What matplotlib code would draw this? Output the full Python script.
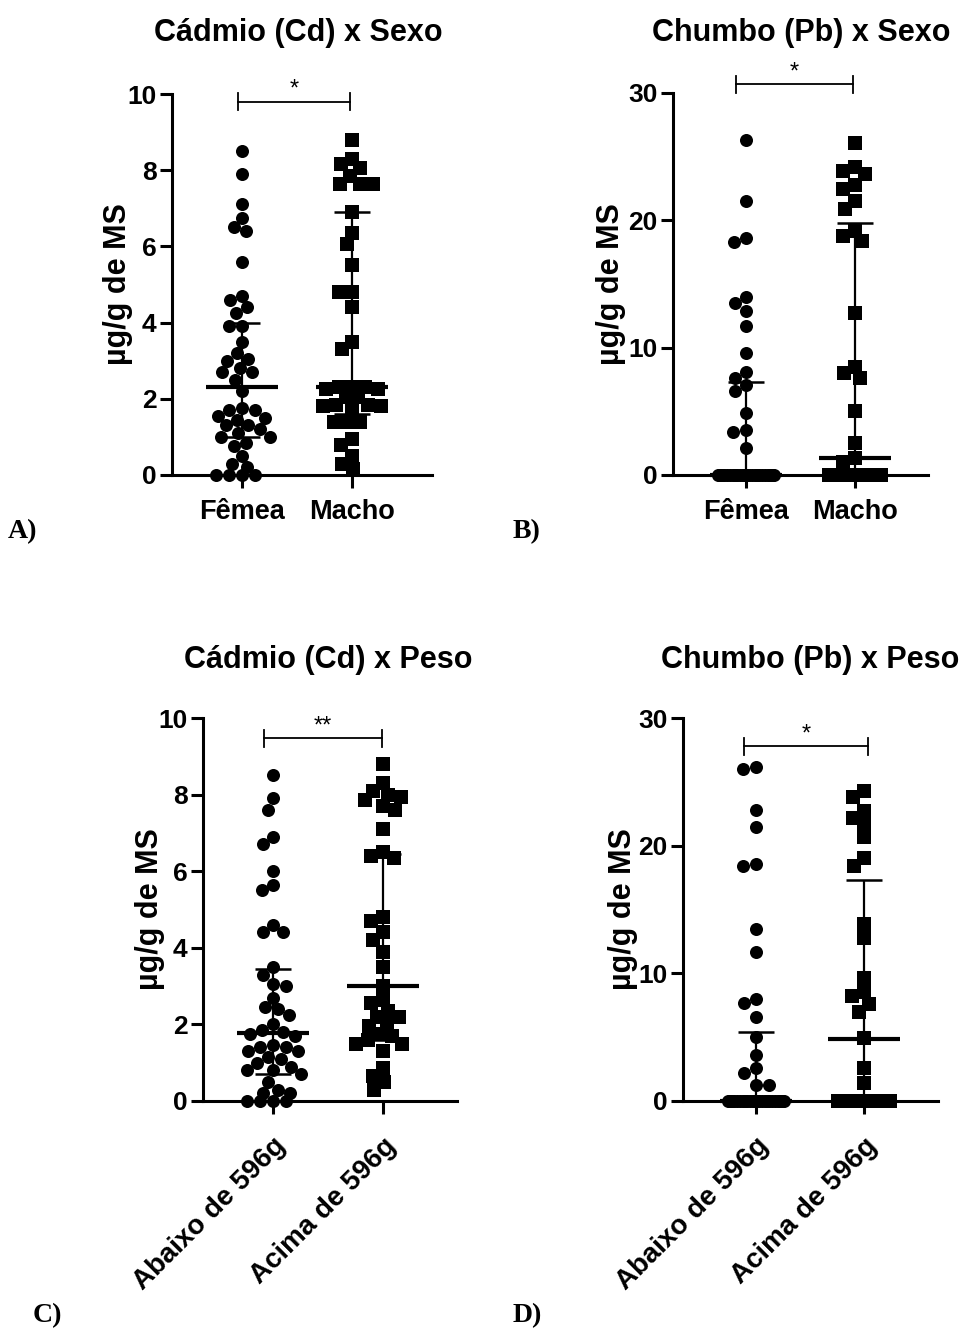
import numpy as np
import matplotlib
matplotlib.use("Agg")
import matplotlib.pyplot as plt

plt.rcParams["font.family"] = ["Liberation Sans", "DejaVu Sans"]
plt.rcParams["font.weight"] = "bold"

# ---------------- data (µg/g de MS) ----------------
sexo_cats = ["Fêmea", "Macho"]
peso_cats = ["Abaixo de 596g", "Acima de 596g"]

cd_sexo_femea = [8.5, 7.9, 7.1, 6.75, 6.5, 6.4, 5.6, 4.7, 4.6, 4.4, 4.25, 3.9, 3.9,
                 3.5, 3.2, 3.05, 3.0, 2.8, 2.7, 2.7, 2.5, 2.2, 1.75, 1.7, 1.7, 1.55,
                 1.5, 1.45, 1.3, 1.3, 1.2, 1.1, 1.0, 1.0, 0.85, 0.75, 0.5, 0.3, 0.2,
                 0.0, 0.0, 0.0, 0.0]
cd_sexo_macho = [8.8, 8.3, 8.15, 8.05, 7.85, 7.65, 7.65, 7.65, 6.9, 6.35, 6.05, 5.5,
                 4.8, 4.8, 4.4, 3.5, 3.3, 2.3, 2.3, 2.3, 2.25, 2.25, 2.05, 2.05, 1.85,
                 1.85, 1.8, 1.8, 1.7, 1.4, 1.4, 1.4, 0.95, 0.8, 0.5, 0.3, 0.15]

pb_sexo_femea = [26.3, 21.5, 18.6, 18.3, 14.0, 13.5, 12.9, 11.7, 9.6, 8.1, 7.6, 7.1,
                 6.6, 4.9, 3.5, 3.4, 2.1,
                 0, 0, 0, 0, 0, 0, 0, 0, 0, 0, 0, 0, 0, 0, 0, 0, 0, 0, 0, 0, 0, 0,
                 0, 0, 0, 0]
pb_sexo_macho = [26.1, 24.2, 23.9, 23.6, 22.8, 22.5, 21.5, 20.9, 19.2, 18.8, 18.4,
                 12.7, 8.5, 8.0, 7.6, 5.0, 2.5, 1.3, 1.0,
                 0, 0, 0, 0, 0, 0, 0, 0, 0, 0, 0, 0, 0, 0, 0, 0, 0, 0, 0, 0]

cd_peso_abaixo = [8.5, 7.9, 7.6, 6.9, 6.7, 6.0, 5.65, 5.5, 4.6, 4.4, 4.4, 3.5, 3.3,
                  3.05, 3.0, 2.7, 2.45, 2.4, 2.25, 2.0, 1.85, 1.8, 1.75, 1.7, 1.45,
                  1.4, 1.4, 1.3, 1.3, 1.15, 1.1, 1.0, 0.9, 0.8, 0.8, 0.7, 0.5, 0.3,
                  0.2, 0.2, 0.0, 0.0, 0.0, 0.0]
cd_peso_acima = [8.8, 8.3, 8.1, 8.0, 7.95, 7.85, 7.7, 7.6, 7.1, 6.5, 6.4, 6.35, 4.8,
                 4.7, 4.4, 4.2, 3.9, 3.5, 3.0, 2.65, 2.55, 2.35, 2.2, 2.2, 2.0, 1.95,
                 1.75, 1.7, 1.6, 1.5, 1.5, 1.3, 0.85, 0.65, 0.5, 0.3]

pb_peso_abaixo = [26.2, 26.0, 22.8, 21.5, 18.6, 18.4, 13.5, 11.7, 8.0, 7.7, 6.6, 5.0,
                  3.6, 2.6, 2.2, 1.25, 1.25,
                  0, 0, 0, 0, 0, 0, 0, 0, 0, 0, 0, 0, 0, 0, 0, 0, 0, 0, 0, 0, 0, 0,
                  0, 0, 0]
pb_peso_acima = [24.3, 23.8, 22.7, 22.2, 21.7, 20.7, 19.0, 18.4, 13.9, 12.8, 9.6, 8.5,
                 8.2, 7.6, 7.0, 4.9, 2.6, 1.4,
                 0, 0, 0, 0, 0, 0, 0, 0, 0, 0, 0, 0, 0, 0, 0, 0, 0, 0, 0, 0]

# median and interquartile range per group
cd_sexo_median = [2.30, 2.32]
cd_sexo_q1 = [1.0, 1.6]
cd_sexo_q3 = [3.98, 6.91]

pb_sexo_median = [0.0, 1.36]
pb_sexo_q1 = [0.0, 0.0]
pb_sexo_q3 = [7.3, 19.8]

cd_peso_median = [1.77, 3.01]
cd_peso_q1 = [0.7, 1.6]
cd_peso_q3 = [3.45, 6.44]

pb_peso_median = [0.0, 4.84]
pb_peso_q1 = [0.0, 0.0]
pb_peso_q3 = [5.41, 17.3]

W, H = 968, 1331
fig = plt.figure(figsize=(W / 100, H / 100), dpi=100)


def swarm(values, ypu, diam=13.0, half=31.0, sep=0.95):
    """Horizontal offsets (px) so that markers overlap as little as possible."""
    vals = np.asarray(values, float)
    order = np.argsort(-vals, kind="stable")
    cands = np.arange(-half, half + 0.01, 1.0)
    cands = cands[np.argsort(np.abs(cands), kind="stable")]
    offs = np.zeros(len(vals))
    placed = []
    for i in order:
        y = vals[i] * ypu
        if not placed:
            placed.append((0.0, y))
            continue
        P = np.array(placed)
        d = np.sqrt((cands[:, None] - P[None, :, 0]) ** 2 +
                    (y - P[None, :, 1]) ** 2).min(axis=1)
        ok = np.where(d >= sep * diam)[0]
        c = cands[ok[0]] if len(ok) else cands[np.argmax(d)]
        offs[i] = c
        placed.append((c, y))
    return offs


def panel(box, cat_px, ymax, step, groups, med, q1, q3, cats, title, title_x, title_y,
          ylab_x, star, bracket_y, bracket_px, letter, letter_xy, rotate=False):
    left, right, top, bottom = box
    ax = fig.add_axes([left / W, 1 - bottom / H, (right - left) / W, (bottom - top) / H])
    spacing = cat_px[1] - cat_px[0]
    ax.set_xlim((left - cat_px[0]) / spacing, (right - cat_px[0]) / spacing)
    ax.set_ylim(0, ymax)
    ypu = (bottom - top) / ymax
    markers = ["o", "s"]
    zero_half = [28.0, 28.0]
    for k, vals in enumerate(groups):
        nz = [v for v in vals if v > 0]
        z = [v for v in vals if v <= 0]
        offs_nz = swarm(nz, ypu)
        offs_z = swarm(z, ypu, half=zero_half[k]) if z else np.array([])
        xs = np.concatenate([k + offs_nz / spacing, k + offs_z / spacing])
        ys = np.concatenate([nz, z])
        ax.scatter(xs, ys, s=88, marker=markers[k], c="black",
                   linewidths=0, clip_on=False, zorder=3)
        ax.plot([k, k], [q1[k], q3[k]], color="black", lw=1.6, zorder=4,
                clip_on=False, solid_capstyle="butt")
        for q in (q1[k], q3[k]):
            ax.plot([k - 0.165, k + 0.165], [q, q], color="black", lw=1.8, zorder=4,
                    clip_on=False, solid_capstyle="butt")
        ax.plot([k - 0.33, k + 0.33], [med[k], med[k]], color="black", lw=3.0,
                zorder=4, clip_on=False, solid_capstyle="butt")

    for s in ("top", "right"):
        ax.spines[s].set_visible(False)
    for s in ("left", "bottom"):
        ax.spines[s].set_linewidth(2.2)
    ax.set_yticks(np.arange(0, ymax + 0.1, step))
    ax.set_yticklabels([f"{int(v)}" for v in np.arange(0, ymax + 0.1, step)])
    ax.set_xticks([0, 1])
    ax.tick_params(axis="both", length=9, width=2.2, labelsize=19, direction="out")
    ax.tick_params(axis="y", pad=2)
    if rotate:
        ax.set_xticklabels(cats, rotation=45, ha="right", va="top",
                           rotation_mode="anchor", fontsize=20, fontweight="bold")
        ax.tick_params(axis="x", pad=14)
    else:
        ax.set_xticklabels(cats, fontsize=19.5, fontweight="bold")
        ax.tick_params(axis="x", pad=8)
    for lab in ax.get_yticklabels():
        lab.set_fontweight("bold")
    ax.set_facecolor("none")

    # significance bracket
    bx0 = (bracket_px[0] - cat_px[0]) / spacing
    bx1 = (bracket_px[1] - cat_px[0]) / spacing
    tick_h = 8.5 / ypu
    ax.plot([bx0, bx1], [bracket_y, bracket_y], color="black", lw=1.3, clip_on=False)
    for bx in (bx0, bx1):
        ax.plot([bx, bx], [bracket_y - tick_h, bracket_y + tick_h], color="black",
                lw=1.3, clip_on=False)
    ax.text((bx0 + bx1) / 2, bracket_y + 1 / ypu, star, ha="center", va="bottom",
            fontsize=17, fontweight="normal", clip_on=False)

    fig.text(title_x / W, 1 - title_y / H, title, ha="center", va="center",
             fontsize=22, fontweight="bold")
    fig.text(ylab_x / W, 1 - (top + bottom) / 2 / H, "µg/g de MS", rotation=90,
             ha="center", va="center", fontsize=22, fontweight="bold")
    fig.text(letter_xy[0] / W, 1 - letter_xy[1] / H, letter, ha="left", va="center",
             fontsize=20, fontweight="bold",
             family=["Liberation Serif", "DejaVu Serif"])
    return ax


panel((172, 432, 94, 475), (242, 352), 10, 2, [cd_sexo_femea, cd_sexo_macho],
      cd_sexo_median, cd_sexo_q1, cd_sexo_q3, sexo_cats, "Cádmio (Cd) x Sexo",
      298, 33, 118, "*", 9.8, (238, 350), "A)", (8, 532))
panel((673, 928, 93, 475), (746, 855), 30, 10, [pb_sexo_femea, pb_sexo_macho],
      pb_sexo_median, pb_sexo_q1, pb_sexo_q3, sexo_cats, "Chumbo (Pb) x Sexo",
      801, 33, 611, "*", 30.7, (736, 853), "B)", (513, 532))
panel((203, 457, 718, 1101), (273, 383), 10, 2, [cd_peso_abaixo, cd_peso_acima],
      cd_peso_median, cd_peso_q1, cd_peso_q3, peso_cats, "Cádmio (Cd) x Peso",
      328, 660, 150, "**", 9.47, (264, 382), "C)", (33, 1316), rotate=True)
panel((683, 938, 718, 1101), (756, 864), 30, 10, [pb_peso_abaixo, pb_peso_acima],
      pb_peso_median, pb_peso_q1, pb_peso_q3, peso_cats, "Chumbo (Pb) x Peso",
      810, 660, 623, "*", 27.8, (744, 868), "D)", (513, 1316), rotate=True)

fig.savefig("out.png", dpi=100, facecolor="white")
